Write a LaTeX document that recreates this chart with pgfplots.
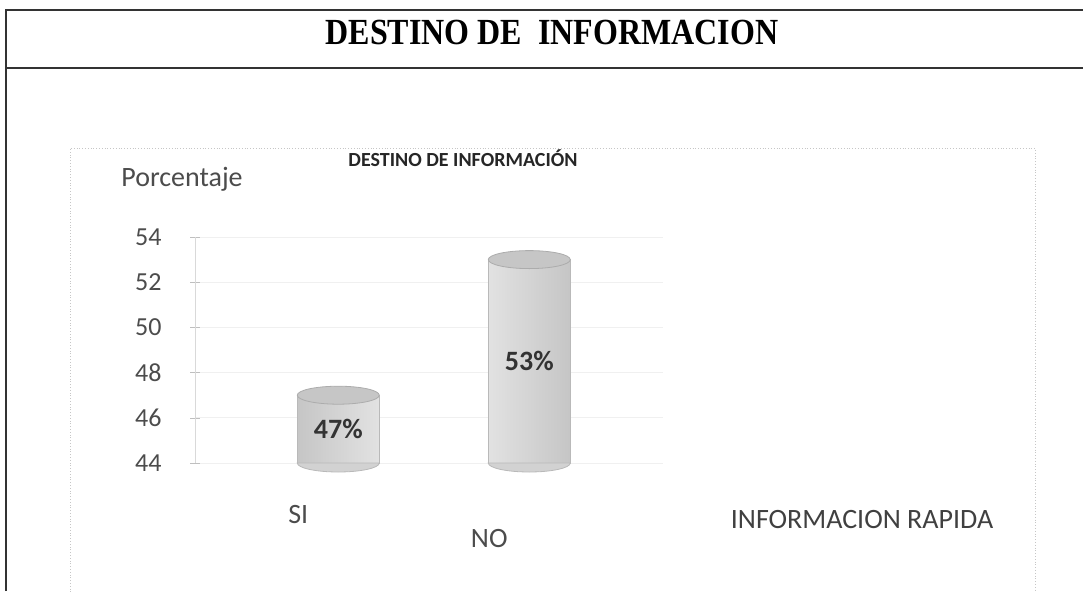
\documentclass[border=0pt]{standalone}
\usepackage{pgfplots}
\pgfplotsset{compat=1.18}
\usepackage{graphicx}
\usepackage{fontspec}
\setmainfont{Carlito}
\newfontfamily\titleserif{Liberation Serif}

% cylinder caps as plot marks
\pgfdeclareplotmark{cyltop}{%
  \pgfpathellipse{\pgfpointorigin}{\pgfqpoint{20.5pt}{0pt}}{\pgfqpoint{0pt}{4.5pt}}%
  \pgfusepathqfillstroke}
\pgfdeclareplotmark{cylbot}{%
  \pgfpathmoveto{\pgfqpoint{-20.5pt}{0pt}}%
  \pgfpatharc{180}{360}{20.5pt and 4.5pt}%
  \pgfpathclose
  \pgfusepathqfillstroke}

\begin{document}
\begin{tikzpicture}
\useasboundingbox (0,0) rectangle (541.5pt,295.5pt);

% page frame and title box
\draw[line width=1pt, black!80] (2.75pt,0) -- (2.75pt,290.5pt) -- (541.5pt,290.5pt);
\draw[line width=1pt, black!80] (2.75pt,261.5pt) -- (541.5pt,261.5pt);
\node[font=\titleserif\fontsize{16}{18}\bfseries\selectfont] at (276pt,279.5pt)
  {\scalebox{1}[1.15]{DESTINO DE\ \ INFORMACION}};

% chart area border
\draw[gray!45, densely dotted] (35pt,-2pt) -- (35pt,221.5pt) -- (517.5pt,221.5pt) -- (517.5pt,-2pt);

\begin{axis}[
  at={(97.5pt,64pt)}, anchor=south west,
  scale only axis, width=234pt, height=113pt,
  xmin=0.25, xmax=2.7,
  ymin=44, ymax=54,
  ytick={44,46,...,54},
  xtick={1,2},
  xticklabels={SI,{\rule{0pt}{21pt}NO}},
  axis lines*=left,
  x axis line style={draw=none},
  y axis line style={gray!30},
  xtick style={draw=none},
  ytick style={gray!50},
  tick align=center, major tick length=5pt,
  ymajorgrids, major grid style={gray!12},
  /pgf/number format/assume math mode=true,
  y tick label style={font=\fontsize{13}{15}\selectfont, text=black!70, inner sep=0pt, xshift=-14pt},
  x tick label style={font=\fontsize{14}{16}\selectfont, text=black!70, inner sep=0pt, anchor=north, yshift=-18.5pt, xshift=-20pt},
  bar width=41pt,
  title={DESTINO DE INFORMACIÓN},
  every axis title/.style={at={(rel axis cs:0,1)}, anchor=center, xshift=134pt, yshift=39.5pt,
    font=\fontsize{10}{12}\bfseries\selectfont, text=black!85},
  ylabel={Porcentaje},
  every axis y label/.style={at={(rel axis cs:0,1)}, anchor=center, xshift=-6.5pt, yshift=29pt,
    font=\fontsize{14}{16}\selectfont, text=black!70},
  xlabel={INFORMACION RAPIDA},
  every axis x label/.style={at={(rel axis cs:0,0)}, anchor=center, xshift=333.5pt, yshift=-28.5pt,
    font=\fontsize{14}{16}\selectfont, text=black!75},
]
% lower halves of the cylinder bases
\addplot[only marks, mark=cylbot, mark options={fill=gray!35, draw=gray!55}]
  coordinates {(1,44) (2,44)};
% cylinder bodies
\addplot[ybar, draw=gray!55, left color=gray!45, right color=gray!45, middle color=gray!8]
  coordinates {(1,47) (2,53)};
% cylinder tops
\addplot[only marks, mark=cyltop, mark options={fill=gray!45, draw=gray!65}]
  coordinates {(1,47) (2,53)};
% value labels inside the cylinders
\addplot[draw=none, nodes near coords, point meta=explicit symbolic,
  every node near coord/.append style={anchor=center, font=\fontsize{14}{16}\bfseries\selectfont, text=black!80}]
  coordinates {(1,45.5) [47\%] (2,48.5) [53\%]};
\end{axis}
\end{tikzpicture}
\end{document}
